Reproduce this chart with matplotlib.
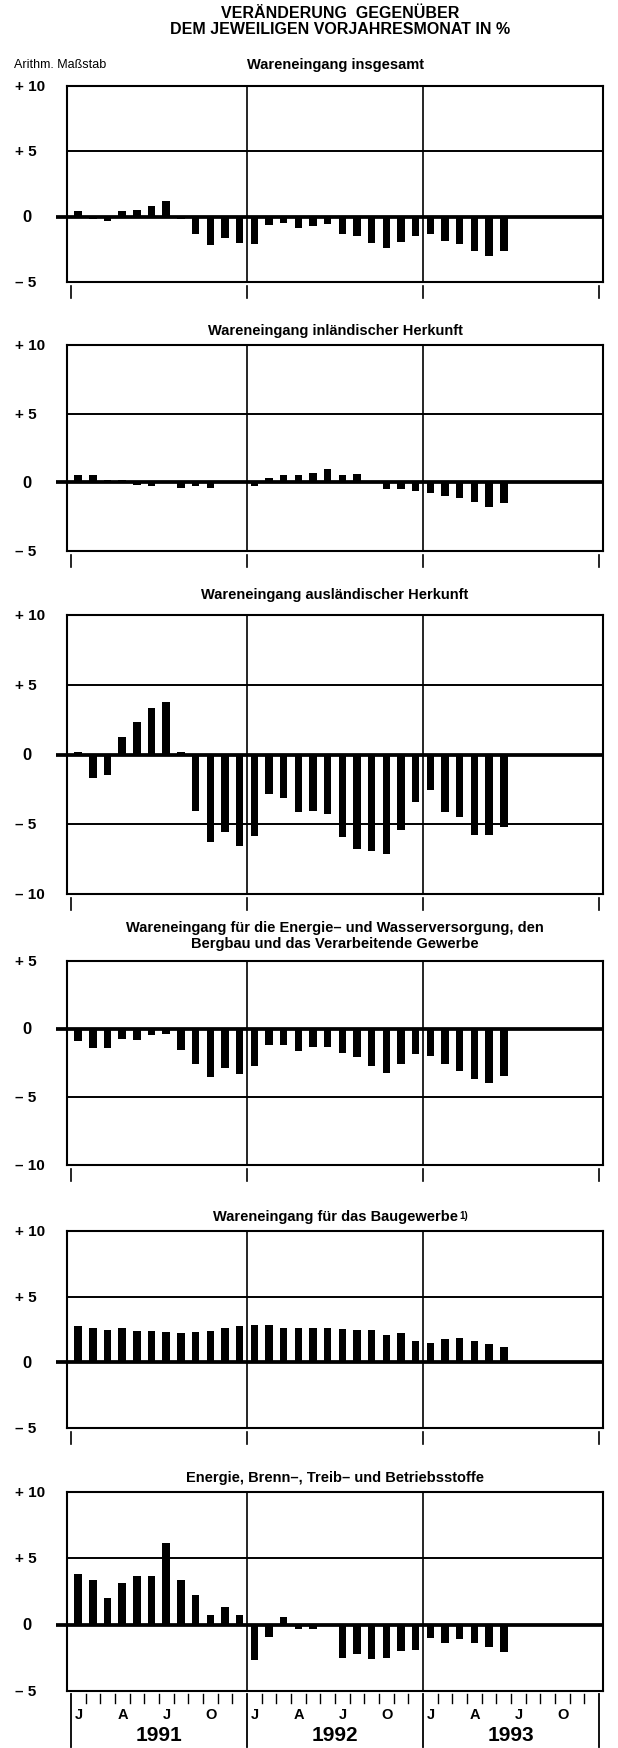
import numpy as np
import matplotlib
matplotlib.use("Agg")
import matplotlib.pyplot as plt
import matplotlib.transforms as mtransforms

plt.rcParams['font.family'] = ['Liberation Sans', 'DejaVu Sans']

# Veraenderung gegenueber Vorjahresmonat in %, Jan 1991 - Jun 1993
insgesamt = [0.4, -0.2, -0.3, 0.4, 0.5, 0.8, 1.2, -0.2, -1.3, -2.2, -1.65, -2.0,
             -2.1, -0.6, -0.5, -0.85, -0.75, -0.55, -1.3, -1.5, -2.0, -2.4, -1.95, -1.5,
             -1.3, -1.9, -2.1, -2.6, -3.0, -2.6]
inland = [0.5, 0.5, 0.2, 0.2, -0.2, -0.3, 0.1, -0.4, -0.3, -0.4, 0.1, 0.1,
          -0.3, 0.3, 0.55, 0.5, 0.7, 0.95, 0.55, 0.6, 0.1, -0.5, -0.45, -0.6,
          -0.8, -1.0, -1.15, -1.45, -1.8, -1.5]
ausland = [0.15, -1.7, -1.5, 1.25, 2.35, 3.35, 3.75, 0.15, -4.05, -6.25, -5.55, -6.55,
           -5.85, -2.8, -3.15, -4.1, -4.05, -4.25, -5.9, -6.8, -6.9, -7.1, -5.4, -3.4,
           -2.55, -4.1, -4.5, -5.8, -5.8, -5.2]
energie_wasser = [-0.9, -1.4, -1.4, -0.7, -0.8, -0.45, -0.4, -1.55, -2.6, -3.5, -2.9, -3.3,
                  -2.7, -1.2, -1.2, -1.6, -1.3, -1.3, -1.8, -2.05, -2.7, -3.2, -2.55, -1.85,
                  -2.0, -2.6, -3.1, -3.7, -4.0, -3.45]
bau = [2.8, 2.6, 2.5, 2.6, 2.35, 2.4, 2.3, 2.2, 2.3, 2.4, 2.6, 2.8,
       2.85, 2.85, 2.65, 2.6, 2.65, 2.65, 2.55, 2.45, 2.45, 2.1, 2.2, 1.6,
       1.5, 1.75, 1.85, 1.6, 1.4, 1.2]
betrieb = [3.8, 3.4, 2.0, 3.15, 3.65, 3.65, 6.15, 3.4, 2.25, 0.7, 1.3, 0.7,
           -2.7, -0.9, 0.55, -0.3, -0.3, 0.0, -2.5, -2.2, -2.6, -2.5, -2.0, -1.9,
           -1.0, -1.35, -1.05, -1.35, -1.65, -2.05]

years = ['1991', '1992', '1993']
month_labels = ['J', 'A', 'J', 'O']

titles = ['Wareneingang insgesamt',
          'Wareneingang inländischer Herkunft',
          'Wareneingang ausländischer Herkunft',
          'Wareneingang für die Energie– und Wasserversorgung, den\nBergbau und das Verarbeitende Gewerbe',
          'Wareneingang für das Baugewerbe',
          'Energie, Brenn–, Treib– und Betriebsstoffe']
series = [insgesamt, inland, ausland, energie_wasser, bau, betrieb]
ylims = [(-5, 10), (-5, 10), (-10, 10), (-10, 5), (-5, 10), (-5, 10)]

# box top / bottom in pixels of the 618x1749 figure
boxes = [(87, 283), (346, 552), (616, 895), (962, 1166), (1232, 1429), (1493, 1692)]
title_y = [65, 331, 595, 936, 1217, 1478]

W, H = 618, 1749
fig = plt.figure(figsize=(W / 100, H / 100), dpi=100)
fig.patch.set_facecolor('white')

def fx(px):
    return px / W

def fy(py):
    return 1 - py / H

def ylabel(v):
    if v > 0:
        return '+ %d' % v
    if v < 0:
        return '– %d' % (-v)
    return '0'

fig.text(fx(340), fy(14), 'VERÄNDERUNG  GEGENÜBER', ha='center', va='center',
         fontsize=11.5, fontweight='bold')
fig.text(fx(340), fy(29), 'DEM JEWEILIGEN VORJAHRESMONAT IN %', ha='center', va='center',
         fontsize=11.5, fontweight='bold')
fig.text(fx(14), fy(65), 'Arithm. Maßstab', ha='left', va='center', fontsize=9)

left, right = 67, 603
x = np.arange(30) + 0.5

for i in range(6):
    top, bot = boxes[i]
    ax = fig.add_axes([fx(left), fy(bot), fx(right - left), (bot - top) / H])
    lo, hi = ylims[i]
    ax.set_xlim(-0.27, 36.27)
    ax.set_ylim(lo, hi)
    ax.bar(x, series[i], width=0.52, color='black', zorder=3)

    for v in range(lo + 5, hi, 5):
        if v == 0:
            continue
        ax.axhline(v, color='black', lw=1.4, zorder=1)
    for yr in (12, 24):
        ax.axvline(yr, color='black', lw=1.2, zorder=1)
    ax.plot([-1.0, 36.27], [0, 0], color='black', lw=2.7, clip_on=False, zorder=4,
            solid_capstyle='butt')

    for s in ax.spines.values():
        s.set_linewidth(1.5)
    ax.set_xticks([])
    ax.set_yticks([])

    for v in range(lo, hi + 1, 5):
        yy = top + (hi - v) / (hi - lo) * (bot - top)
        if v == 0:
            fig.text(fx(27), fy(yy), '0', ha='center', va='center', fontsize=12, fontweight='bold')
        else:
            fig.text(fx(15), fy(yy), ylabel(v), ha='left', va='center', fontsize=11, fontweight='bold')

    t = fig.text(fx(335), fy(title_y[i]), titles[i], ha='center', va='center', fontsize=10.5,
                 fontweight='bold', linespacing=1.25)
    if i == 4:
        # footnote mark on the Baugewerbe title
        ax.annotate('1)', xy=(1, 1), xycoords=t, xytext=(1, -1), textcoords='offset points',
                    ha='left', va='top', fontsize=7, fontweight='bold')

    trans = mtransforms.blended_transform_factory(ax.transData, ax.transAxes)
    px_h = bot - top
    if i < 5:
        for yr in (0, 12, 24, 36):
            ax.plot([yr, yr], [-4 / px_h, -16 / px_h], color='black', lw=1.2,
                    transform=trans, clip_on=False)
    else:
        for m in range(37):
            if m % 12 == 0:
                ax.plot([m, m], [-3 / px_h, -56 / px_h], color='black', lw=1.3,
                        transform=trans, clip_on=False)
            else:
                ax.plot([m, m], [-3 / px_h, -12 / px_h], color='black', lw=1.0,
                        transform=trans, clip_on=False)
        for k, yr in enumerate(years):
            for j, lab in enumerate(month_labels):
                ax.text(12 * k + 3 * j + 0.55, -23 / px_h, lab, transform=trans,
                        ha='center', va='center', fontsize=10.5, fontweight='bold')
            ax.text(12 * k + 6, -44 / px_h, yr, transform=trans, ha='center', va='center',
                    fontsize=15, fontweight='bold')

fig.savefig('out.png', dpi=100, facecolor='white')
